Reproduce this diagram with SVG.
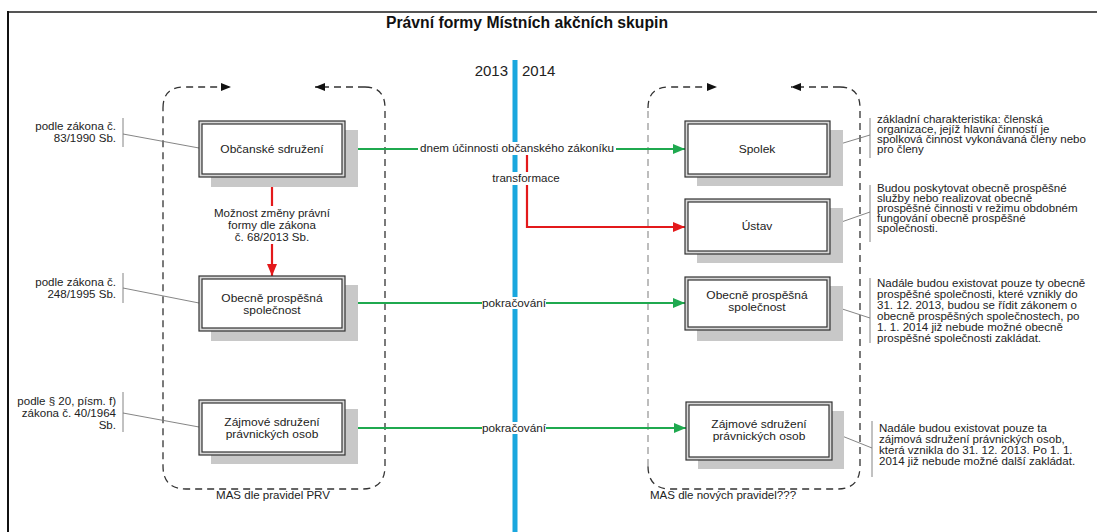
<svg xmlns="http://www.w3.org/2000/svg" width="1097" height="532" viewBox="0 0 1097 532">
<style>
text{font-family:"Liberation Sans",Arial,sans-serif;fill:#222}
.t{font-size:11px;text-anchor:middle}
.d{font-size:10.5px}
.n{font-size:10.5px;text-anchor:end}
.lbl{font-size:10.5px;text-anchor:middle}
.box{fill:#d8d8d8;stroke:#333;stroke-width:1.2}
.inner{fill:#fff;stroke:#333;stroke-width:1.2}
.sh{fill:#c8c8c8}
.dash{fill:none;stroke:#333;stroke-width:1.3;stroke-dasharray:7 5}
.dashl{fill:none;stroke:#9a9a9a;stroke-width:1.3;stroke-dasharray:7 5}
.thin{fill:none;stroke:#777;stroke-width:0.9}
.green{fill:none;stroke:#1fa94f;stroke-width:2.2}
.red{fill:none;stroke:#e3191b;stroke-width:2.2}
.bg{fill:#fff}
</style>
<defs>
<marker id="ag" viewBox="0 0 12 10" refX="12" refY="5" markerWidth="12" markerHeight="10" markerUnits="userSpaceOnUse" orient="auto"><path d="M0,0 L12,5 L0,10 z" fill="#1fa94f"/></marker>
<marker id="ar" viewBox="0 0 12 10" refX="12" refY="5" markerWidth="12" markerHeight="10" markerUnits="userSpaceOnUse" orient="auto"><path d="M0,0 L12,5 L0,10 z" fill="#e3191b"/></marker>
<marker id="ak" viewBox="0 0 10 8" refX="10" refY="4" markerWidth="10" markerHeight="8" markerUnits="userSpaceOnUse" orient="auto"><path d="M0,0 L10,4 L0,8 z" fill="#111"/></marker>
</defs>
<rect x="0" y="0" width="1097" height="532" fill="#fff"/>
<!-- frame -->
<line x1="7" y1="12" x2="1097" y2="12" stroke="#555" stroke-width="2.2"/>
<line x1="8" y1="11" x2="8" y2="532" stroke="#111" stroke-width="2"/>
<text x="386" y="28" textLength="282" lengthAdjust="spacingAndGlyphs" style="font-size:16px;font-weight:bold;fill:#111">Právní formy Místních akčních skupin</text>

<!-- timeline -->
<g id="timeline">
<line x1="515" y1="60" x2="515" y2="532" stroke="#1aa7de" stroke-width="5"/>
<text x="508" y="76" style="font-size:15px;text-anchor:end">2013</text>
<text x="522" y="76" style="font-size:15px">2014</text>
</g>

<!-- groups (dashed containers) -->
<g id="group-prv">
<path class="dash" d="M163,108 Q163,87 184,87 L231,87" marker-end="url(#ak)"/>
<path class="dash" d="M365,87 Q385,87 385,108 L385,466 Q385,489 362,489 L186,489 Q163,489 163,466 L163,108"/>
<path class="dash" d="M365,87 L315,87" marker-end="url(#ak)"/>
<g transform="translate(273 0) scale(1.1 1)"><text class="lbl" x="0" y="499">MAS dle pravidel PRV</text></g>
</g>
<g id="group-new">
<path class="dash" d="M648,108 Q648,87 669,87 L717,87" marker-end="url(#ak)"/>
<path class="dash" d="M840,87 Q860,87 860,108 L860,466 Q860,489 837,489 L671,489 Q648,489 648,466"/>
<path class="dashl" d="M648,466 L648,108"/>
<path class="dash" d="M840,87 L791,87" marker-end="url(#ak)"/>
<g transform="translate(723 0) scale(1.1 1)"><text class="lbl" x="0" y="499">MAS dle nových pravidel???</text></g>
</g>

<!-- connectors -->
<g id="connectors">
<path class="green" d="M345,149 L685,149" marker-end="url(#ag)"/>
<rect class="bg" x="418" y="142" width="198" height="13"/>
<g transform="translate(517 0) scale(1.11 1)"><text class="lbl" x="0" y="152">dnem účinnosti občanského zákoníku</text></g>

<path class="red" d="M527,155 L527,227 L685,227" marker-end="url(#ar)"/>
<rect class="bg" x="491" y="172" width="71" height="13"/>
<g transform="translate(526 0) scale(1.1 1)"><text class="lbl" x="0" y="182">transformace</text></g>

<path class="red" d="M272,177 L272,276" marker-end="url(#ar)"/>
<rect class="bg" x="212" y="206" width="120" height="38"/>
<g transform="translate(272 0) scale(1.1 1)">
<text class="lbl" x="0" y="217">Možnost změny právní</text>
<text class="lbl" x="0" y="229">formy dle zákona</text>
<text class="lbl" x="0" y="241">č. 68/2013 Sb.</text>
</g>

<path class="green" d="M345,303 L685,303" marker-end="url(#ag)"/>
<rect class="bg" x="482" y="297" width="64" height="12"/>
<g transform="translate(514 0) scale(1.12 1)"><text class="lbl" x="0" y="307">pokračování</text></g>

<path class="green" d="M345,428 L686,428" marker-end="url(#ag)"/>
<rect class="bg" x="482" y="422" width="64" height="12"/>
<g transform="translate(514 0) scale(1.12 1)"><text class="lbl" x="0" y="432">pokračování</text></g>

<!-- annotation leaders -->
<line class="thin" x1="123" y1="134" x2="199" y2="148"/>
<line class="thin" x1="123" y1="288" x2="199" y2="303"/>
<line class="thin" x1="123" y1="413" x2="199" y2="427"/>
<line class="thin" x1="830" y1="147" x2="870" y2="135"/>
<line class="thin" x1="830" y1="226" x2="870" y2="212"/>
<line class="thin" x1="830" y1="305" x2="870" y2="318"/>
<line class="thin" x1="832" y1="432" x2="872" y2="448"/>
</g>

<!-- left nodes -->
<g id="obcanske-sdruzeni">
<rect class="sh" x="211" y="130" width="147" height="57"/>
<rect class="box" x="199" y="121" width="146" height="56"/>
<rect class="inner" x="202" y="124" width="140" height="50"/>
<g transform="translate(272 0) scale(1.09 1)"><text class="t" x="0" y="153">Občanské sdružení</text></g>
</g>
<g id="ops-left">
<rect class="sh" x="211" y="285" width="147" height="56"/>
<rect class="box" x="199" y="276" width="146" height="55"/>
<rect class="inner" x="202" y="279" width="140" height="49"/>
<g transform="translate(272 0) scale(1.09 1)">
<text class="t" x="0" y="302">Obecně prospěšná</text>
<text class="t" x="0" y="314">společnost</text>
</g>
</g>
<g id="zajmove-left">
<rect class="sh" x="211" y="409" width="147" height="55"/>
<rect class="box" x="199" y="400" width="146" height="55"/>
<rect class="inner" x="202" y="403" width="140" height="49"/>
<g transform="translate(272 0) scale(1.09 1)">
<text class="t" x="0" y="426">Zájmové sdružení</text>
<text class="t" x="0" y="438">právnických osob</text>
</g>
</g>

<!-- right nodes -->
<g id="spolek">
<rect class="sh" x="697" y="130" width="146" height="56"/>
<rect class="box" x="685" y="121" width="145" height="56"/>
<rect class="inner" x="688" y="124" width="139" height="50"/>
<g transform="translate(757 0) scale(1.09 1)"><text class="t" x="0" y="153">Spolek</text></g>
</g>
<g id="ustav">
<rect class="sh" x="697" y="208" width="146" height="55"/>
<rect class="box" x="685" y="199" width="145" height="55"/>
<rect class="inner" x="688" y="202" width="139" height="49"/>
<g transform="translate(757 0) scale(1.09 1)"><text class="t" x="0" y="230">Ústav</text></g>
</g>
<g id="ops-right">
<rect class="sh" x="697" y="286" width="146" height="55"/>
<rect class="box" x="685" y="277" width="145" height="53"/>
<rect class="inner" x="688" y="280" width="139" height="47"/>
<g transform="translate(757 0) scale(1.09 1)">
<text class="t" x="0" y="299">Obecně prospěšná</text>
<text class="t" x="0" y="311">společnost</text>
</g>
</g>
<g id="zajmove-right">
<rect class="sh" x="698" y="411" width="146" height="58"/>
<rect class="box" x="686" y="402" width="146" height="58"/>
<rect class="inner" x="689" y="405" width="140" height="52"/>
<g transform="translate(759 0) scale(1.09 1)">
<text class="t" x="0" y="428">Zájmové sdružení</text>
<text class="t" x="0" y="440">právnických osob</text>
</g>
</g>

<!-- left annotations -->
<g id="note-os">
<line class="thin" x1="123" y1="118" x2="123" y2="147"/>
<g transform="translate(116 0) scale(1.1 1)">
<text class="n" x="0" y="130">podle zákona č.</text>
<text class="n" x="0" y="142">83/1990 Sb.</text>
</g>
</g>
<g id="note-ops">
<line class="thin" x1="123" y1="273" x2="123" y2="303"/>
<g transform="translate(116 0) scale(1.1 1)">
<text class="n" x="0" y="286">podle zákona č.</text>
<text class="n" x="0" y="298">248/1995 Sb.</text>
</g>
</g>
<g id="note-zs">
<line class="thin" x1="123" y1="392" x2="123" y2="432"/>
<g transform="translate(116 0) scale(1.1 1)">
<text class="n" x="0" y="405">podle § 20, písm. f)</text>
<text class="n" x="0" y="417">zákona č. 40/1964</text>
<text class="n" x="0" y="429">Sb.</text>
</g>
</g>

<!-- right annotations -->
<g id="note-spolek">
<line class="thin" x1="870" y1="118" x2="870" y2="158"/>
<g transform="translate(877 0) scale(1.1 1)">
<text class="d" x="0" y="123">základní charakteristika: členská</text>
<text class="d" x="0" y="133">organizace, jejíž hlavní činností je</text>
<text class="d" x="0" y="143">spolková činnost vykonávaná členy nebo</text>
<text class="d" x="0" y="153">pro členy</text>
</g>
</g>
<g id="note-ustav">
<line class="thin" x1="870" y1="185" x2="870" y2="242"/>
<g transform="translate(877 0) scale(1.1 1)">
<text class="d" x="0" y="192">Budou poskytovat obecně prospěšné</text>
<text class="d" x="0" y="202">služby nebo realizovat obecně</text>
<text class="d" x="0" y="212">prospěšné činnosti v režimu obdobném</text>
<text class="d" x="0" y="222">fungování obecně prospěšné</text>
<text class="d" x="0" y="232">společnosti.</text>
</g>
</g>
<g id="note-ops-right">
<line class="thin" x1="870" y1="278" x2="870" y2="343"/>
<g transform="translate(877 0) scale(1.1 1)">
<text class="d" x="0" y="287">Nadále budou existovat pouze ty obecně</text>
<text class="d" x="0" y="298">prospěšné společnosti, které vznikly do</text>
<text class="d" x="0" y="309">31. 12. 2013, budou se řídit zákonem o</text>
<text class="d" x="0" y="320">obecně prospěšných společnostech, po</text>
<text class="d" x="0" y="331">1. 1. 2014 již nebude možné obecně</text>
<text class="d" x="0" y="342">prospěšné společnosti zakládat.</text>
</g>
</g>
<g id="note-zs-right">
<line class="thin" x1="872" y1="421" x2="872" y2="477"/>
<g transform="translate(879 0) scale(1.1 1)">
<text class="d" x="0" y="432">Nadále budou existovat pouze ta</text>
<text class="d" x="0" y="443">zájmová sdružení právnických osob,</text>
<text class="d" x="0" y="454">která vznikla do 31. 12. 2013. Po 1. 1.</text>
<text class="d" x="0" y="465">2014 již nebude možné další zakládat.</text>
</g>
</g>
</svg>
